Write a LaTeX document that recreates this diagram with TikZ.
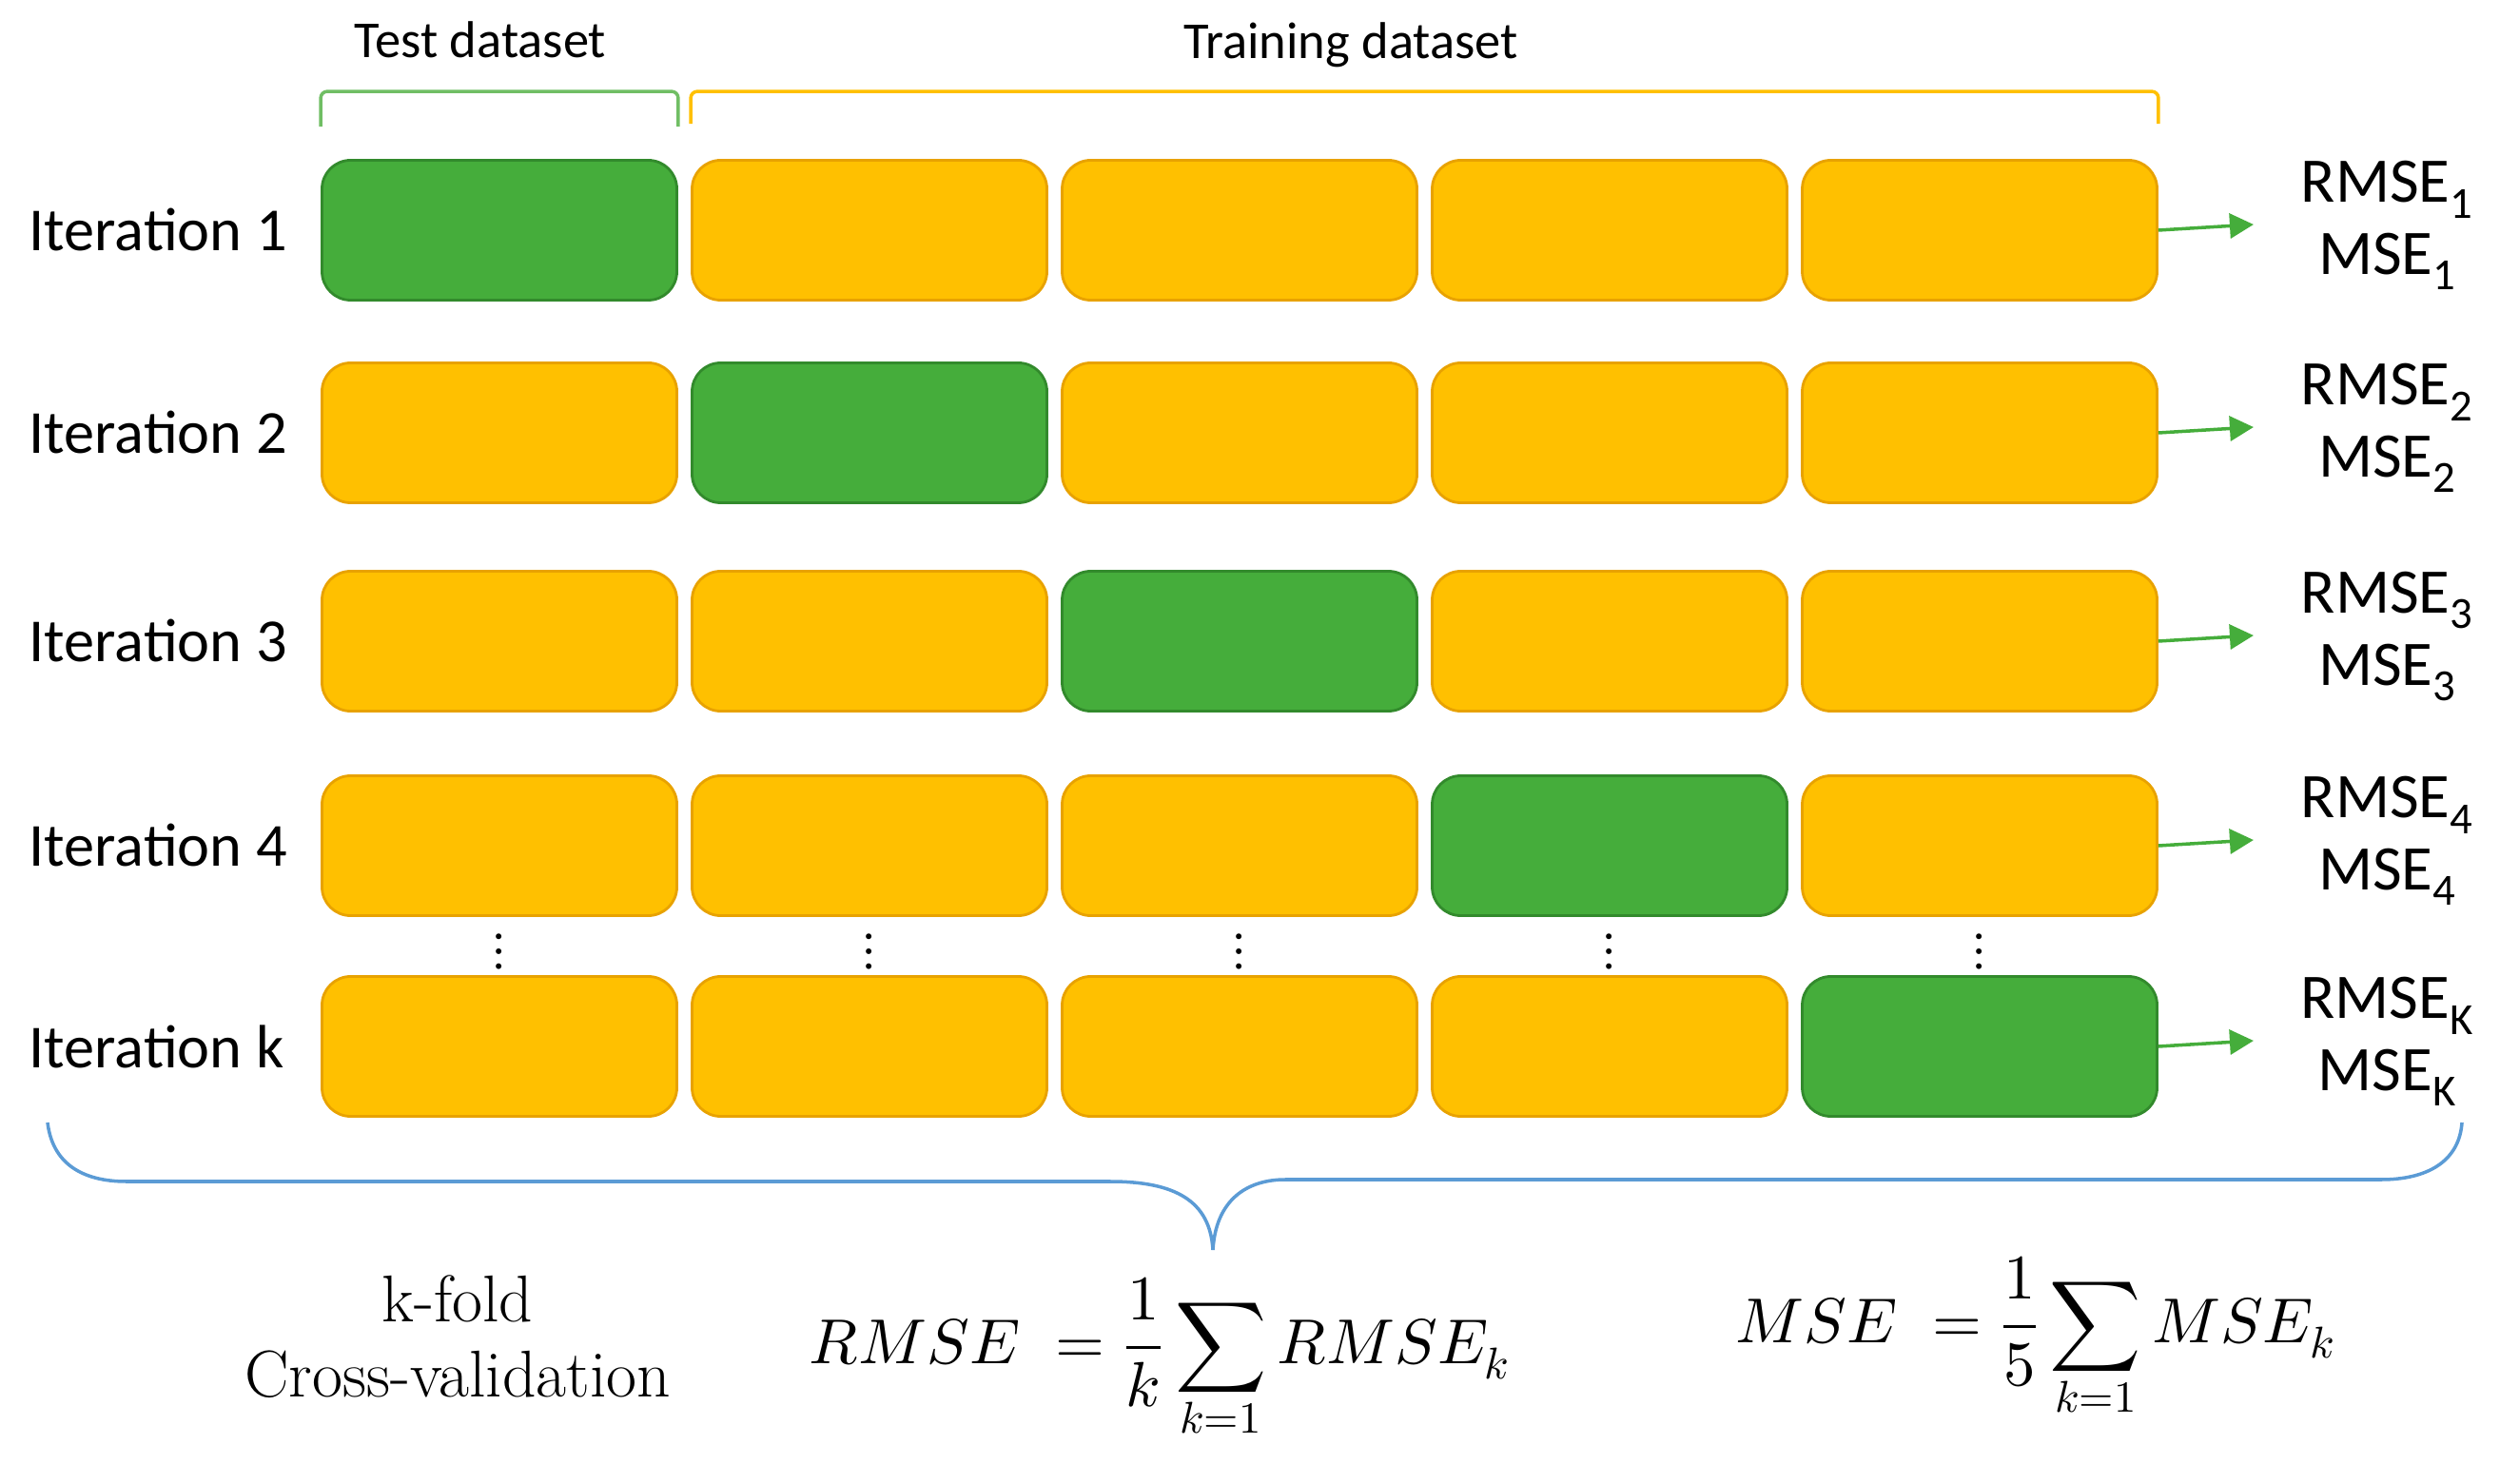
\documentclass[tikz,border=0pt]{standalone}
\usepackage{fontspec}
\usepackage{unicode-math}
\setmainfont{Latin Modern Roman}
\setmathfont{Latin Modern Math}
\newfontfamily\carl{Carlito}
\usetikzlibrary{calc,positioning,arrows.meta}
\definecolor{foldgreen}{RGB}{69,173,59}
\definecolor{foldgreendark}{RGB}{50,138,44}
\definecolor{foldyellow}{RGB}{255,192,0}
\definecolor{foldyellowdark}{RGB}{232,162,0}
\definecolor{bracketgreen}{RGB}{112,190,100}
\definecolor{braceblue}{RGB}{91,155,213}
\tikzset{
  fold/.style={draw=foldyellowdark,fill=foldyellow,rounded corners=0.3cm,minimum width=3.73cm,minimum height=1.47cm,inner sep=0pt,line width=0.8pt},
  testfold/.style={fold,draw=foldgreendark,fill=foldgreen},
  itlabel/.style={anchor=west,inner sep=0pt,font=\carl\fontsize{18.3}{22}\selectfont},
  errlabel/.style={align=center,font=\carl\fontsize{19}{21.5}\selectfont,inner sep=0pt},
  errarrow/.style={-{Triangle[length=2.5mm,width=2.6mm]},foldgreen,line width=1pt},
  setlabel/.style={font=\carl\fontsize{15.5}{18}\selectfont},
}

\begin{document}
\begin{tikzpicture}
\useasboundingbox (0,0) rectangle (26.28,-15.6);

\foreach \r/\y/\name/\sub in {1/2.42/1/1,2/4.55/2/2,3/6.74/3/3,4/8.89/4/4,5/11.00/k/K}{
  \node[itlabel] (it\r) at (0.30,-\y) {Iteration \name};
  \foreach \c in {1,...,5}{
    \ifnum\c=\r \def\foldsty{testfold}\else\def\foldsty{fold}\fi
    \node[\foldsty] (box\r\c) at ({5.25+3.89*(\c-1)},-\y) {};
  }
  \coordinate (out\r) at ($(box\r5.east)+(1.0,0.06)$);
  \draw[errarrow] (box\r5.east) -- (out\r);
  \node[errlabel] (err\r) at ($(box\r5.east)+(2.41,0.05)$) {RMSE\textsubscript{\sub}\\MSE\textsubscript{\sub}};
}

\foreach \c in {1,...,5}
  \node (dots\c) at ({5.25+3.89*(\c-1)},-10.0) {\fontsize{16}{16}\selectfont$\vdots$};

\draw[bracketgreen,line width=1pt,rounded corners=2pt] ($(box11.north west)+(0,0.34)$) |- ($(box11.north east)+(0,0.71)$) -- ($(box11.north east)+(0,0.34)$);
\draw[foldyellow,line width=1pt,rounded corners=2pt] ($(box12.north west)+(0,0.37)$) |- ($(box15.north east)+(0,0.71)$) -- ($(box15.north east)+(0,0.37)$);
\node[setlabel] (testset) at (5.05,-0.42) {Test dataset};
\node[setlabel] (trainset) at (14.20,-0.47) {Training dataset};

\draw[braceblue,line width=1pt] (0.50,-11.80) .. controls (0.55,-12.22) and (0.85,-12.42) .. (1.33,-12.42)
  -- (11.67,-12.42) .. controls (12.35,-12.42) and (12.72,-12.62) .. (12.75,-13.14)
  .. controls (12.78,-12.62) and (13.10,-12.40) .. (13.51,-12.40)
  -- (25.03,-12.40) .. controls (25.50,-12.40) and (25.85,-12.22) .. (25.88,-11.80);

\node[align=center,font=\fontsize{19.8}{22.4}\selectfont] (kfold) at (4.81,-14.05) {k-fold\\Cross-validation};
\node[anchor=base,font=\fontsize{19}{24}\selectfont] (rmse) at (12.19,-14.33) {$\displaystyle RMSE\;=\frac{1}{k}\sum_{k=1} RMSE_k$};
\node[anchor=base,font=\fontsize{19}{24}\selectfont] (mse) at (21.40,-14.11) {$\displaystyle MSE\;=\frac{1}{5}\sum_{k=1} MSE_k$};
\end{tikzpicture}
\end{document}
